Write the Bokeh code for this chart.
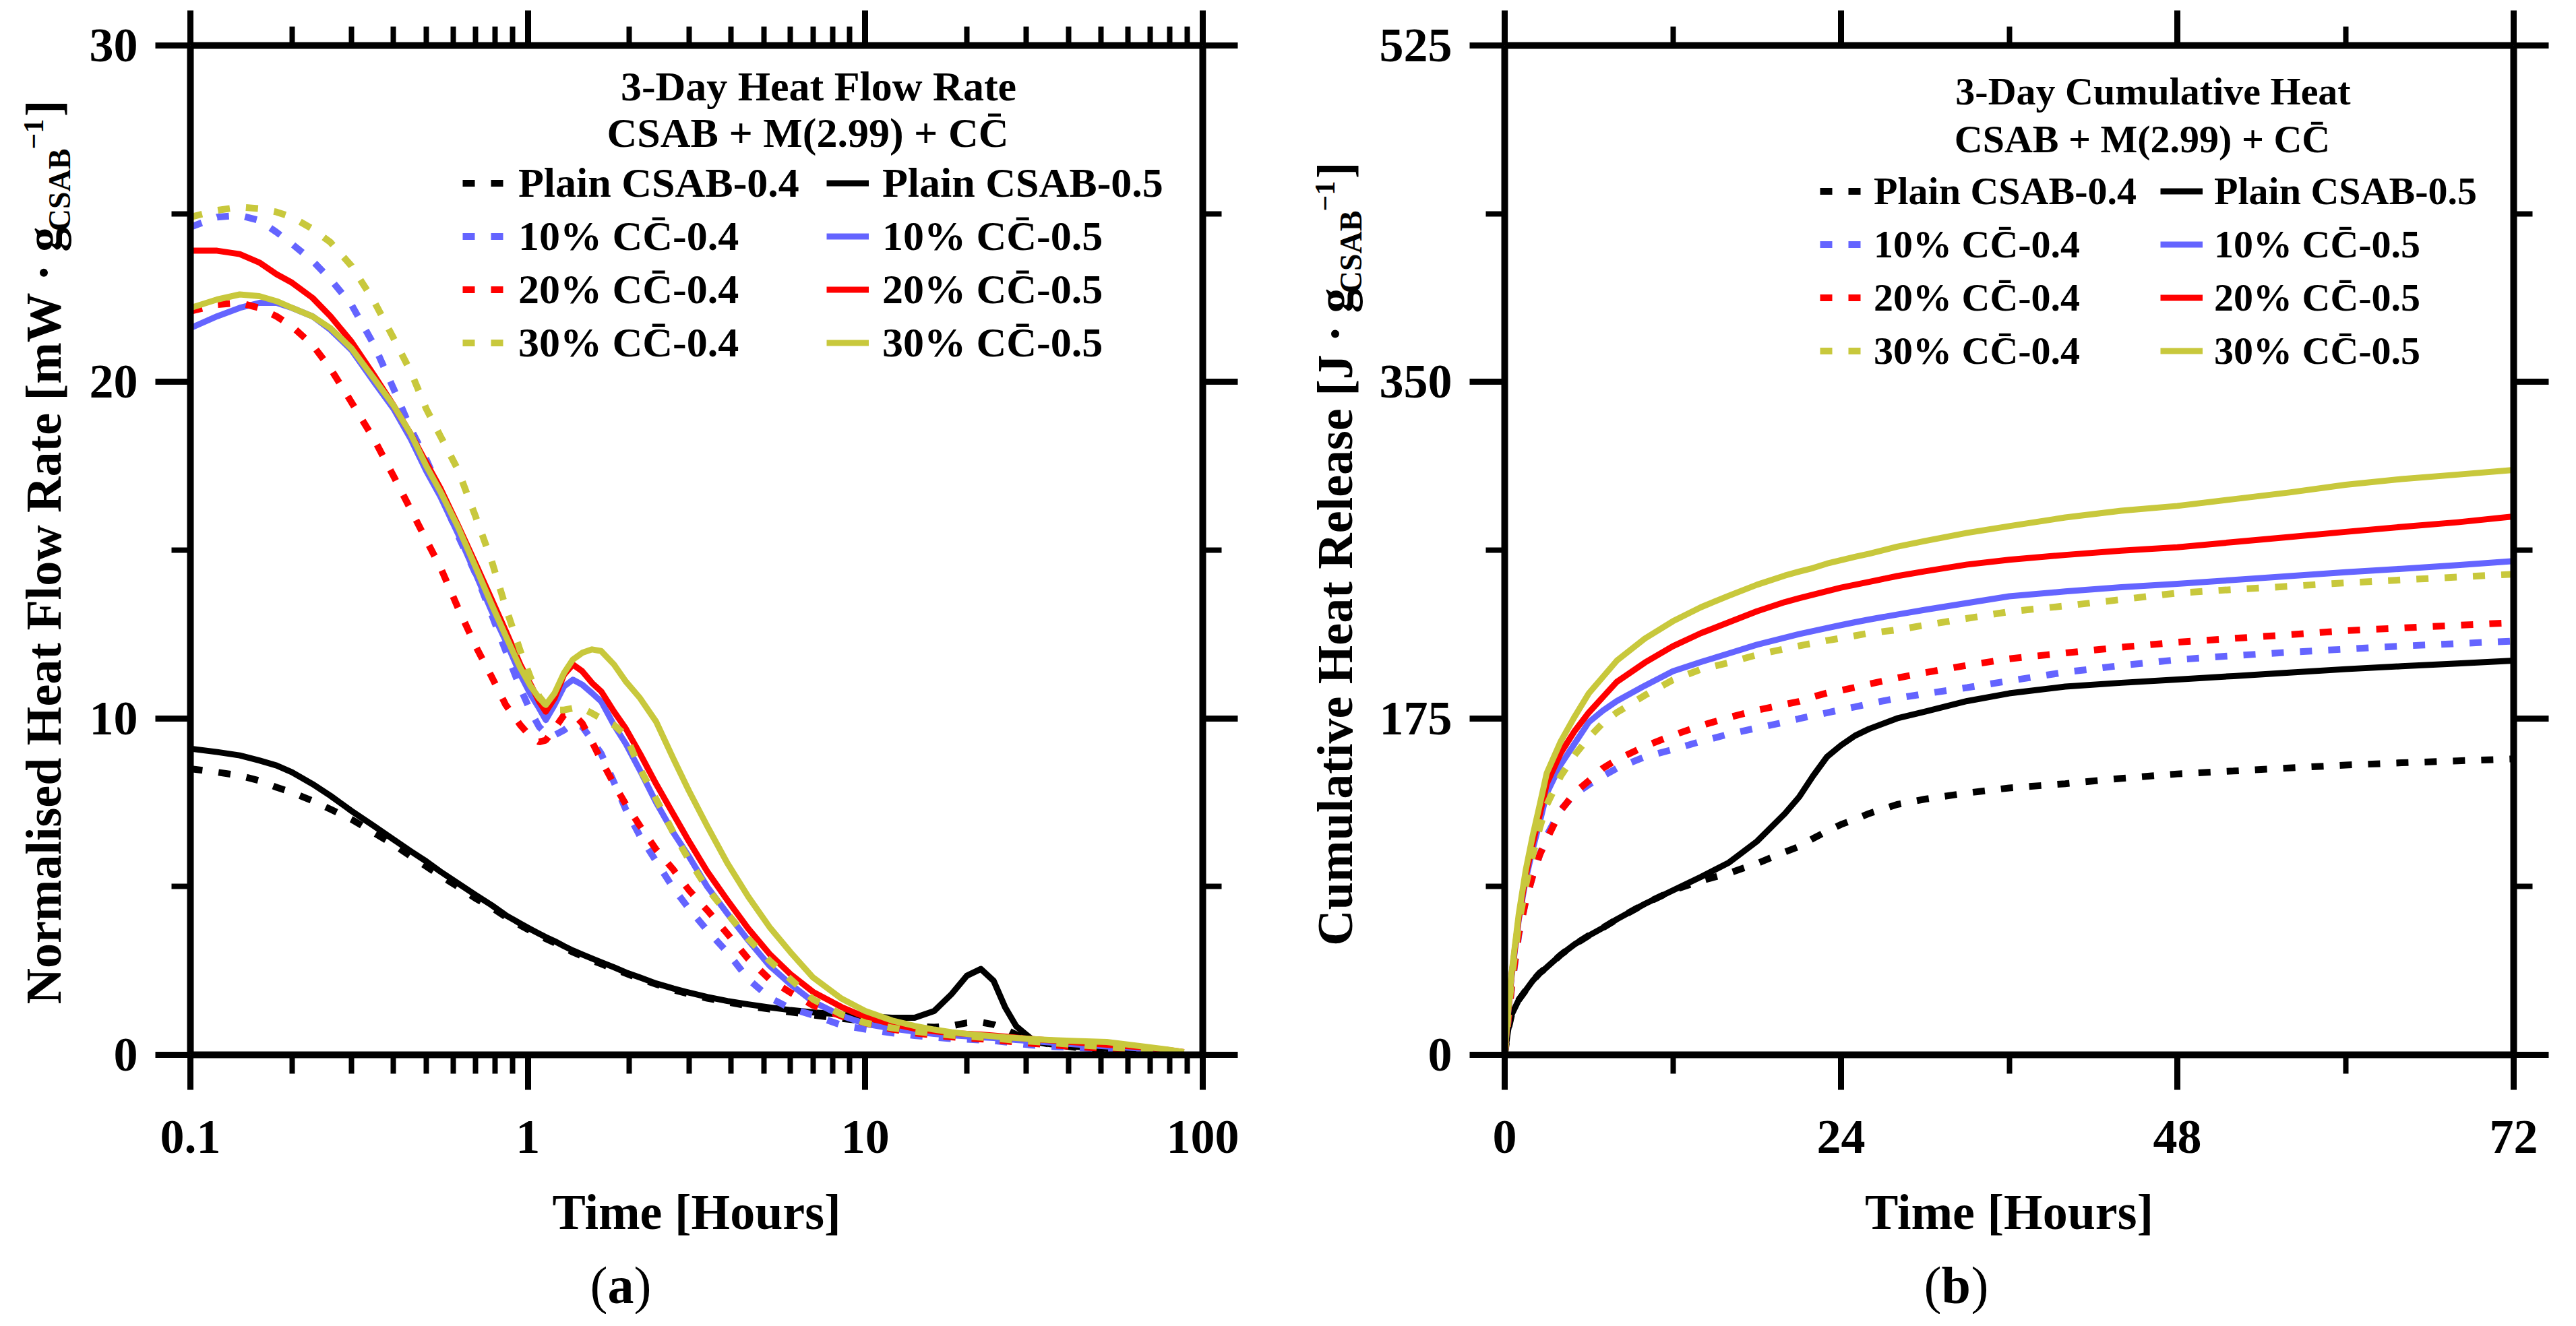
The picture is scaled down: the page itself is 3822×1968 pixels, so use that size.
import math
from bokeh.plotting import figure
from bokeh.models import (Range1d, FixedTicker, LinearAxis, LogAxis, Label, Legend,
                          LegendItem, CustomJSTickFormatter)
from bokeh.layouts import row, column
from bokeh.embed import file_html
from bokeh.resources import INLINE

FONT = "Liberation Serif"

# ---------------- panel (a): normalised heat flow rate [mW/g_CSAB] vs time [h] (log x)
time_a = [0.10, 0.12, 0.14, 0.16, 0.18, 0.20, 0.23, 0.26, 0.30, 0.35, 0.40, 0.45, 0.50,
          0.55, 0.62, 0.70, 0.78, 0.86, 0.95, 1.02, 1.08, 1.13, 1.20, 1.28, 1.36, 1.45,
          1.55, 1.65, 1.80, 1.95, 2.15, 2.40, 2.70, 3.0, 3.4, 3.9, 4.5, 5.2, 6.0, 7.0,
          8.5, 10, 12, 14, 16, 18, 20, 22, 24, 26, 28, 31, 35, 42, 52, 65, 78, 88]

flow_plain_04 = [8.5, 8.4, 8.3, 8.15, 7.95, 7.8, 7.55, 7.3, 7.0, 6.6, 6.25, 5.9, 5.6,
                 5.32, 5.0, 4.65, 4.38, 4.1, 3.85, 3.68, 3.55, 3.45, 3.33, 3.18, 3.05, 2.93,
                 2.8, 2.7, 2.55, 2.42, 2.26, 2.1, 1.93, 1.81, 1.68, 1.57, 1.45, 1.36, 1.27, 1.18,
                 1.08, 1.0, 0.92, 0.85, 0.82, 0.86, 0.95, 0.97, 0.9, 0.76, 0.6, 0.42, 0.32, 0.22,
                 0.15, 0.1, 0.06, 0.03]
flow_plain_05 = [9.1, 9.0, 8.9, 8.75, 8.6, 8.4, 8.05, 7.7, 7.25, 6.8, 6.4, 6.05, 5.75,
                 5.45, 5.1, 4.75, 4.45, 4.15, 3.9, 3.73, 3.6, 3.5, 3.38, 3.23, 3.1, 2.98,
                 2.86, 2.75, 2.6, 2.45, 2.3, 2.12, 1.97, 1.85, 1.72, 1.6, 1.5, 1.41, 1.33, 1.26,
                 1.2, 1.15, 1.1, 1.1, 1.3, 1.8, 2.35, 2.55, 2.2, 1.4, 0.85, 0.48, 0.32, 0.24,
                 0.18, 0.12, 0.07, 0.03]
flow_10_04 = [24.6, 24.9, 24.95, 24.8, 24.45, 24.1, 23.6, 23.05, 22.3, 21.1, 19.8, 18.6, 17.7,
              16.75, 15.45, 14.3, 13.1, 12.0, 10.9, 10.2, 9.75, 9.55, 9.5, 9.65, 9.85, 9.75,
              9.35, 8.95, 8.1, 7.3, 6.5, 5.75, 4.95, 4.35, 3.7, 3.05, 2.25, 1.7, 1.38, 1.18,
              0.88, 0.76, 0.65, 0.57, 0.52, 0.48, 0.46, 0.44, 0.42, 0.38, 0.34, 0.29, 0.25, 0.21,
              0.16, 0.13, 0.1, 0.05]
flow_10_05 = [21.6, 21.95, 22.2, 22.35, 22.35, 22.2, 21.95, 21.55, 20.95, 20.0, 19.2, 18.3, 17.35,
              16.6, 15.5, 14.3, 13.2, 12.3, 11.3, 10.7, 10.3, 9.95, 10.4, 10.95, 11.15, 11.0,
              10.75, 10.5, 9.8, 9.25, 8.45, 7.5, 6.6, 5.9, 5.0, 4.2, 3.4, 2.65, 2.1, 1.58,
              1.16, 0.92, 0.78, 0.69, 0.62, 0.58, 0.55, 0.52, 0.5, 0.47, 0.44, 0.41, 0.37, 0.31,
              0.25, 0.19, 0.12, 0.06]
flow_20_04 = [22.1, 22.3, 22.35, 22.2, 21.95, 21.65, 21.1, 20.4, 19.4, 18.3, 17.2, 16.2, 15.3,
              14.5, 13.3, 12.15, 11.25, 10.4, 9.8, 9.45, 9.3, 9.35, 9.7, 10.1, 10.15, 9.85,
              9.3, 8.75, 8.05, 7.45, 6.8, 6.1, 5.5, 4.9, 4.3, 3.6, 2.85, 2.25, 1.85, 1.47,
              1.15, 0.95, 0.76, 0.65, 0.58, 0.53, 0.5, 0.47, 0.44, 0.41, 0.38, 0.34, 0.3, 0.24,
              0.18, 0.13, 0.09, 0.05]
flow_20_05 = [23.9, 23.9, 23.8, 23.55, 23.2, 22.95, 22.5, 21.95, 21.2, 20.2, 19.3, 18.45, 17.6,
              16.85, 15.75, 14.6, 13.55, 12.6, 11.6, 11.0, 10.5, 10.2, 10.6, 11.3, 11.6, 11.4,
              11.05, 10.8, 10.2, 9.7, 8.95, 8.05, 7.15, 6.35, 5.45, 4.6, 3.75, 3.0, 2.4, 1.87,
              1.42, 1.12, 0.92, 0.78, 0.7, 0.65, 0.62, 0.6, 0.57, 0.54, 0.51, 0.47, 0.43, 0.37,
              0.3, 0.23, 0.15, 0.08]
flow_30_04 = [24.9, 25.1, 25.2, 25.15, 25.05, 24.9, 24.55, 24.15, 23.45, 22.4, 21.3, 20.3, 19.2,
              18.4, 17.4, 16.0, 14.7, 13.3, 12.0, 11.2, 10.65, 10.4, 10.25, 10.25, 10.3, 10.3,
              10.15, 10.0, 9.8, 9.5, 8.5, 7.6, 6.6, 5.8, 4.95, 4.2, 3.45, 2.8, 2.25, 1.65,
              1.2, 0.95, 0.8, 0.7, 0.63, 0.58, 0.55, 0.52, 0.49, 0.46, 0.43, 0.4, 0.36, 0.3,
              0.23, 0.17, 0.11, 0.06]
flow_30_05 = [22.2, 22.45, 22.6, 22.55, 22.4, 22.2, 21.95, 21.6, 21.0, 20.1, 19.3, 18.45, 17.5,
              16.75, 15.7, 14.5, 13.4, 12.45, 11.5, 10.95, 10.6, 10.4, 10.75, 11.35, 11.75, 11.95,
              12.05, 12.0, 11.6, 11.1, 10.6, 9.9, 8.8, 7.85, 6.8, 5.7, 4.7, 3.8, 3.05, 2.3,
              1.67, 1.3, 1.02, 0.86, 0.75, 0.67, 0.62, 0.58, 0.55, 0.52, 0.5, 0.47, 0.44, 0.41,
              0.38, 0.26, 0.16, 0.08]

# ---------------- panel (b): cumulative heat release [J/g_CSAB] vs time [h]
time_b = [0, 0.25, 0.5, 1, 1.5, 2, 2.5, 3, 4, 5, 6, 7, 8, 10, 12, 14, 16, 18, 20, 21,
          22, 23, 24, 25, 26, 28, 30, 33, 36, 40, 44, 48, 52, 56, 60, 64, 68, 72]

heat_plain_04 = [0, 13, 21, 28.5, 33.5, 38.5, 42.5, 45.5, 52, 57.5, 62, 66, 70.5, 78.5, 85.5,
                 90.5, 94.5, 99.5, 105.5, 108.3, 112.5, 116.3, 119.8, 122.5, 125.5, 130.2, 133,
                 136.2, 138.8, 141, 143.8, 146.1, 147.6, 149.2, 150.7, 151.9, 152.9, 153.9]
heat_plain_05 = [0, 13, 21, 28.5, 33.5, 38.5, 42.5, 45.5, 52, 57.5, 62, 66, 70.5, 78.5, 85.5,
                 92.5, 100, 111, 125.5, 134, 145, 155, 161, 166, 169.5, 175, 178.5,
                 184, 188, 191.5, 193.5, 195.2, 197, 198.8, 200.6, 202.1, 203.5, 205]
heat_10_04 = [0, 18, 35, 62, 80, 93, 104, 114, 127.5, 135.5, 140.5, 145, 149, 155, 158.8,
              163, 166.8, 170, 173, 174.8, 176.4, 177.9, 179.5, 181, 182.6, 185.5, 187.8,
              191, 194.5, 199, 202.5, 205.5, 207.6, 209.4, 211, 212.6, 213.9, 215.2]
heat_10_05 = [0, 22, 41, 70, 91, 107, 121, 136, 151, 162, 173, 179, 184, 192, 199.5,
              204.3, 208.8, 213.3, 217, 218.8, 220.4, 222, 223.5, 225, 226.4, 229, 231.5,
              235, 238.5, 241, 243.2, 245, 247, 249, 251, 252.8, 254.7, 256.8]
heat_20_04 = [0, 18, 36, 63, 80, 93, 104, 112, 127, 136.5, 142.5, 149, 153.5, 160.5, 166.2,
              171.2, 175.5, 179.2, 182.3, 183.8, 186.2, 188.2, 189.6, 191.1, 192.8, 196, 198.8,
              202.6, 206, 209, 212, 214.6, 216.6, 218.5, 220.6, 222, 223.4, 224.8]
heat_20_05 = [0, 22, 42, 71, 93, 110, 125, 141, 157, 168.5, 178, 186, 194, 204, 212.5,
              219.3, 225, 230.7, 235.5, 237.5, 239.3, 241.2, 243, 244.5, 246, 249, 251.5,
              255, 257.5, 260, 262.2, 264, 266.7, 269.3, 272, 274.6, 277, 280]
heat_30_04 = [0, 21, 40, 68, 88, 104, 118, 130, 145, 156, 165, 172.5, 178, 187, 195,
              200.5, 204, 208, 211.2, 212.7, 214.1, 215.5, 216.7, 218, 219.3, 221, 223.5,
              227, 230.5, 233.5, 236.8, 240.2, 242, 243.7, 245.5, 247, 248.5, 250]
heat_30_05 = [0, 23, 43, 73, 96, 114, 130, 146.5, 163, 176, 188, 196.5, 205, 216.5, 225.5,
              232.8, 238.8, 244.5, 249.3, 251.3, 253.2, 255.5, 257.3, 259, 260.6, 264.3, 267.3,
              271.5, 275, 279.5, 283, 285.5, 289, 292.5, 296.5, 299.5, 301.8, 304.2]

# ---------------- ticks, labels
x_ticks_a = [0.1, 1, 10, 100]
x_minor_a = [0.2, 0.3, 0.4, 0.5, 0.6, 0.7, 0.8, 0.9, 2, 3, 4, 5, 6, 7, 8, 9,
             20, 30, 40, 50, 60, 70, 80, 90]
y_ticks_a = [0, 10, 20, 30]
y_minor_a = [5, 15, 25]
x_ticks_b = [0, 24, 48, 72]
x_minor_b = [12, 36, 60]
y_ticks_b = [0, 175, 350, 525]
y_minor_b = [87.5, 262.5, 437.5]

CBAR = "C\u0304"
labels_04 = ["Plain CSAB-0.4", "10% C" + CBAR + "-0.4", "20% C" + CBAR + "-0.4", "30% C" + CBAR + "-0.4"]
labels_05 = ["Plain CSAB-0.5", "10% C" + CBAR + "-0.5", "20% C" + CBAR + "-0.5", "30% C" + CBAR + "-0.5"]
colors = ["#000000", "#6464FF", "#FF0000", "#C8C83C"]

series_a_04 = [flow_plain_04, flow_10_04, flow_20_04, flow_30_04]
series_a_05 = [flow_plain_05, flow_10_05, flow_20_05, flow_30_05]
series_b_04 = [heat_plain_04, heat_10_04, heat_20_04, heat_30_04]
series_b_05 = [heat_plain_05, heat_10_05, heat_20_05, heat_30_05]

# layout (page pixels): frames y 75..1573, frame a x 290..1792, frame b x 2240..3737
H1, H2 = 1862, 88          # plot row height, caption row height
TOP = 67                   # border above frames
BOT = H1 + 8 - 1573        # border below frames
YL_A, YL_B = 120, 130      # y-title column widths
PW_A = 1902 - YL_A
PW_B = 1902 - YL_B
DASH = "18 24"


def style_axis(ax, show):
    ax.axis_line_width = 10
    ax.axis_line_color = "black"
    ax.major_tick_line_width = 9
    ax.minor_tick_line_width = 8
    ax.major_tick_in = 0
    ax.major_tick_out = 52
    ax.minor_tick_in = 0
    ax.minor_tick_out = 28
    ax.major_label_text_font = FONT
    ax.major_label_text_font_style = "bold"
    ax.major_label_text_color = "black"
    if show:
        ax.major_label_text_font_size = "72px"
    else:
        ax.major_label_text_font_size = "0px"
        ax.major_label_standoff = 0
        ax.formatter = CustomJSTickFormatter(code="return ''")


def label(p, text, x, y, size, bold=True, align="left", angle=0.0, units="screen"):
    p.add_layout(Label(x=x, y=y, x_units=units, y_units=units, text=text,
                       angle=angle, text_align=align, text_baseline="alphabetic",
                       text_font=FONT, text_font_style="bold" if bold else "normal",
                       text_font_size=f"{size}px", text_color="black"))


def blank(w, h, top=0, bottom=0):
    f = figure(width=w, height=h, x_range=Range1d(0, w), y_range=Range1d(0, h - top - bottom),
               x_axis_location=None, y_axis_location=None, output_backend="svg",
               toolbar_location=None, title=None, min_border=0, min_border_left=0,
               min_border_right=0, min_border_top=top, min_border_bottom=bottom,
               outline_line_color=None, background_fill_color="white",
               border_fill_color="white")
    f.xgrid.visible = False
    f.ygrid.visible = False
    return f


def make_panel(xlog, width, xr, yr, xt, xm, yt, ym, bl, br, s04, s05, tx, leg):
    p = figure(width=width, height=H1, x_range=Range1d(*xr), y_range=Range1d(*yr),
               x_axis_type="log" if xlog else "linear", x_axis_location=None,
               y_axis_location=None, output_backend="svg", toolbar_location=None,
               title=None, min_border_left=bl, min_border_right=br, min_border_top=TOP,
               min_border_bottom=BOT, background_fill_color="white",
               border_fill_color="white", outline_line_color=None)
    p.xgrid.visible = False
    p.ygrid.visible = False
    XA = LogAxis if xlog else LinearAxis
    for loc in ("below", "above"):
        ax = XA(ticker=FixedTicker(ticks=xt, minor_ticks=xm))
        style_axis(ax, loc == "below")
        if loc == "below":
            ax.major_label_standoff = 46
            ax.formatter = CustomJSTickFormatter(code="return String(tick)")
            ax.axis_label = "Time [Hours]"
            ax.axis_label_text_font = FONT
            ax.axis_label_text_font_style = "bold"
            ax.axis_label_text_font_size = "74px"
            ax.axis_label_text_color = "black"
            ax.axis_label_standoff = 44
        p.add_layout(ax, loc)
    for loc in ("left", "right"):
        ax = LinearAxis(ticker=FixedTicker(ticks=yt, minor_ticks=ym))
        style_axis(ax, loc == "left")
        if loc == "left":
            ax.major_label_standoff = 26
        p.add_layout(ax, loc)

    r04, r05 = [], []
    for ys4, ys5, c in zip(s04, s05, colors):
        r04.append(p.line(tx, ys4, line_color=c, line_width=10, line_dash=DASH))
        r05.append(p.line(tx, ys5, line_color=c, line_width=9, line_join="round"))

    for rs, labs, lx in ((r04, labels_04, leg["x1"]), (r05, labels_05, leg["x2"])):
        lg = Legend(items=[LegendItem(label=l, renderers=[r]) for l, r in zip(labs, rs)],
                    location=(lx, leg["y"]), orientation="vertical",
                    border_line_color=None, background_fill_alpha=0.0,
                    padding=0, margin=0, spacing=0, glyph_width=63, glyph_height=79,
                    label_height=79, label_standoff=leg["standoff"],
                    label_text_font=FONT, label_text_font_style="bold",
                    label_text_font_size=f"{leg['size']}px", label_text_color="black",
                    label_text_baseline="middle")
        p.add_layout(lg)
    return p


pa = make_panel(True, PW_A, (0.1, 100), (0, 30), x_ticks_a, x_minor_a, y_ticks_a, y_minor_a,
                290 - 8 - YL_A, 8 + YL_A + PW_A - 1792, series_a_04, series_a_05, time_a,
                dict(x1=404, x2=944, y=1017, standoff=20, size=62))
pb = make_panel(False, PW_B, (0, 72), (0, 525), x_ticks_b, x_minor_b, y_ticks_b, y_minor_b,
                2240 - 1910 - YL_B, 1910 + YL_B + PW_B - 3737, series_b_04, series_b_05, time_b,
                dict(x1=468, x2=973, y=1005, standoff=17, size=58))

# legend titles
label(pa, "3-Day Heat Flow Rate", 932, 1438, 62, align="center")
label(pa, "CSAB + M(2.99) + C" + CBAR, 916, 1369, 62, align="center")
label(pb, "3-Day Cumulative Heat", 962, 1430, 58, align="center")
label(pb, "CSAB + M(2.99) + C" + CBAR, 946, 1359, 58, align="center")

# rotated y-axis titles (own columns, same vertical borders as the plots);
# pieces are anchored at their upper ends so they join without gaps
V = math.pi / 2
ya = blank(YL_A, H1, TOP, BOT)
label(ya, "]", 64, 1417, 74, angle=V, align="right", units="data")
label(ya, "\u22121", 49, 1389, 42, angle=V, align="right", units="data")
label(ya, "CSAB", 88, 1345, 46, angle=V, align="right", units="data")
label(ya, "Normalised Heat Flow Rate [mW \u00b7 g", 64, 1230, 74, angle=V, align="right", units="data")

yb = blank(YL_B, H1, TOP, BOT)
label(yb, "]", 78, 1325, 74, angle=V, align="right", units="data")
label(yb, "\u22121", 63, 1297, 42, angle=V, align="right", units="data")
label(yb, "CSAB", 102, 1253, 46, angle=V, align="right", units="data")
label(yb, "Cumulative Heat Release [J \u00b7 g", 78, 1138, 74, angle=V, align="right", units="data")

# panel captions
ca = blank(1902, H2)
label(ca, "(", 875, 43, 78, bold=False, units="data")
label(ca, "a", 901, 43, 78, units="data")
label(ca, ")", 940, 43, 78, bold=False, units="data")
cb = blank(1902, H2)
label(cb, "(", 952, 43, 78, bold=False, units="data")
label(cb, "b", 978, 43, 78, units="data")
label(cb, ")", 1022, 43, 78, bold=False, units="data")

layout = column(row(ya, pa, yb, pb), row(ca, cb))
open("out.html", "w").write(file_html(layout, INLINE))
